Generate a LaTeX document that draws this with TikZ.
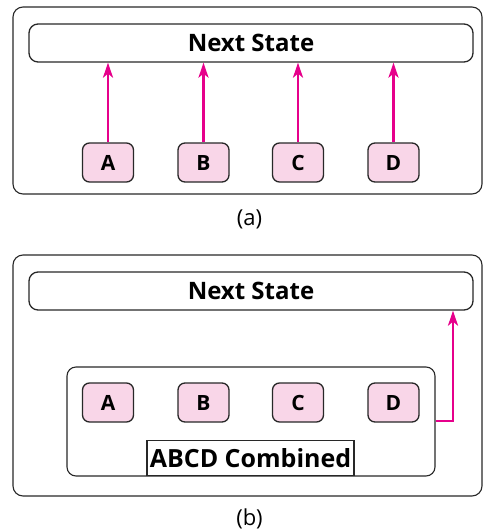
\documentclass[tikz,border=0pt]{standalone}
\usepackage{fontspec}
\setmainfont{Open Sans}
\usetikzlibrary{arrows.meta}
\definecolor{pinkfill}{RGB}{249,214,232}
\definecolor{magarrow}{RGB}{230,0,139}
\definecolor{edge}{RGB}{40,40,40}
\begin{document}
\begin{tikzpicture}[x=1pt,y=-1pt,
  frame/.style={draw=edge,line width=1.1pt,rounded corners=10pt},
  statebox/.style={draw=edge,line width=1.3pt,rounded corners=9pt,minimum width=444pt,minimum height=38pt,inner sep=0pt,font=\bfseries\fontsize{24}{27}\selectfont},
  letterbox/.style={draw=edge,fill=pinkfill,line width=1.3pt,rounded corners=7pt,minimum width=51pt,minimum height=39pt,inner sep=0pt,font=\bfseries\fontsize{21}{24}\selectfont},
  flow/.style={draw=magarrow,line width=2.6pt,-{Stealth[length=15pt,width=10pt,inset=4pt]}},
  caption/.style={font=\fontsize{22}{25}\selectfont,inner sep=0pt}]
\useasboundingbox (0,0) rectangle (485,531);
% panel (a)
\draw[frame] (13,7) rectangle (482,194);
\node[statebox] (nsa) at (251,43) {Next State};
\node[letterbox] (a1) at (108,162.5) {A};
\node[letterbox] (b1) at (203.5,162.5) {B};
\node[letterbox] (c1) at (298,162.5) {C};
\node[letterbox] (d1) at (393.5,162.5) {D};
\foreach \n in {a1,b1,c1,d1} \draw[flow] (\n.north) -- (\n.north |- nsa.south);
\node[caption] (capa) at (249.5,219) {(a)};
% panel (b)
\draw[frame] (13,255) rectangle (482,496);
\node[statebox] (nsb) at (251,291) {Next State};
\node[draw=edge,line width=1.1pt,rounded corners=9pt,minimum width=368pt,minimum height=109pt,inner sep=0pt] (comb) at (251,421.5) {};
\node[letterbox] (a2) at (108,402.5) {A};
\node[letterbox] (b2) at (203.5,402.5) {B};
\node[letterbox] (c2) at (298,402.5) {C};
\node[letterbox] (d2) at (393.5,402.5) {D};
\node[draw=edge,line width=1.1pt,minimum width=207pt,minimum height=35pt,inner sep=0pt,anchor=south,font=\bfseries\fontsize{25}{28}\selectfont] (lbl) at (250.5,476) {ABCD Combined};
\coordinate (turn) at (453,421);
\draw[flow] (comb.east |- turn) -- (turn) -- (turn |- nsb.south);
\node[caption] (capb) at (249.5,519) {(b)};
\end{tikzpicture}
\end{document}
